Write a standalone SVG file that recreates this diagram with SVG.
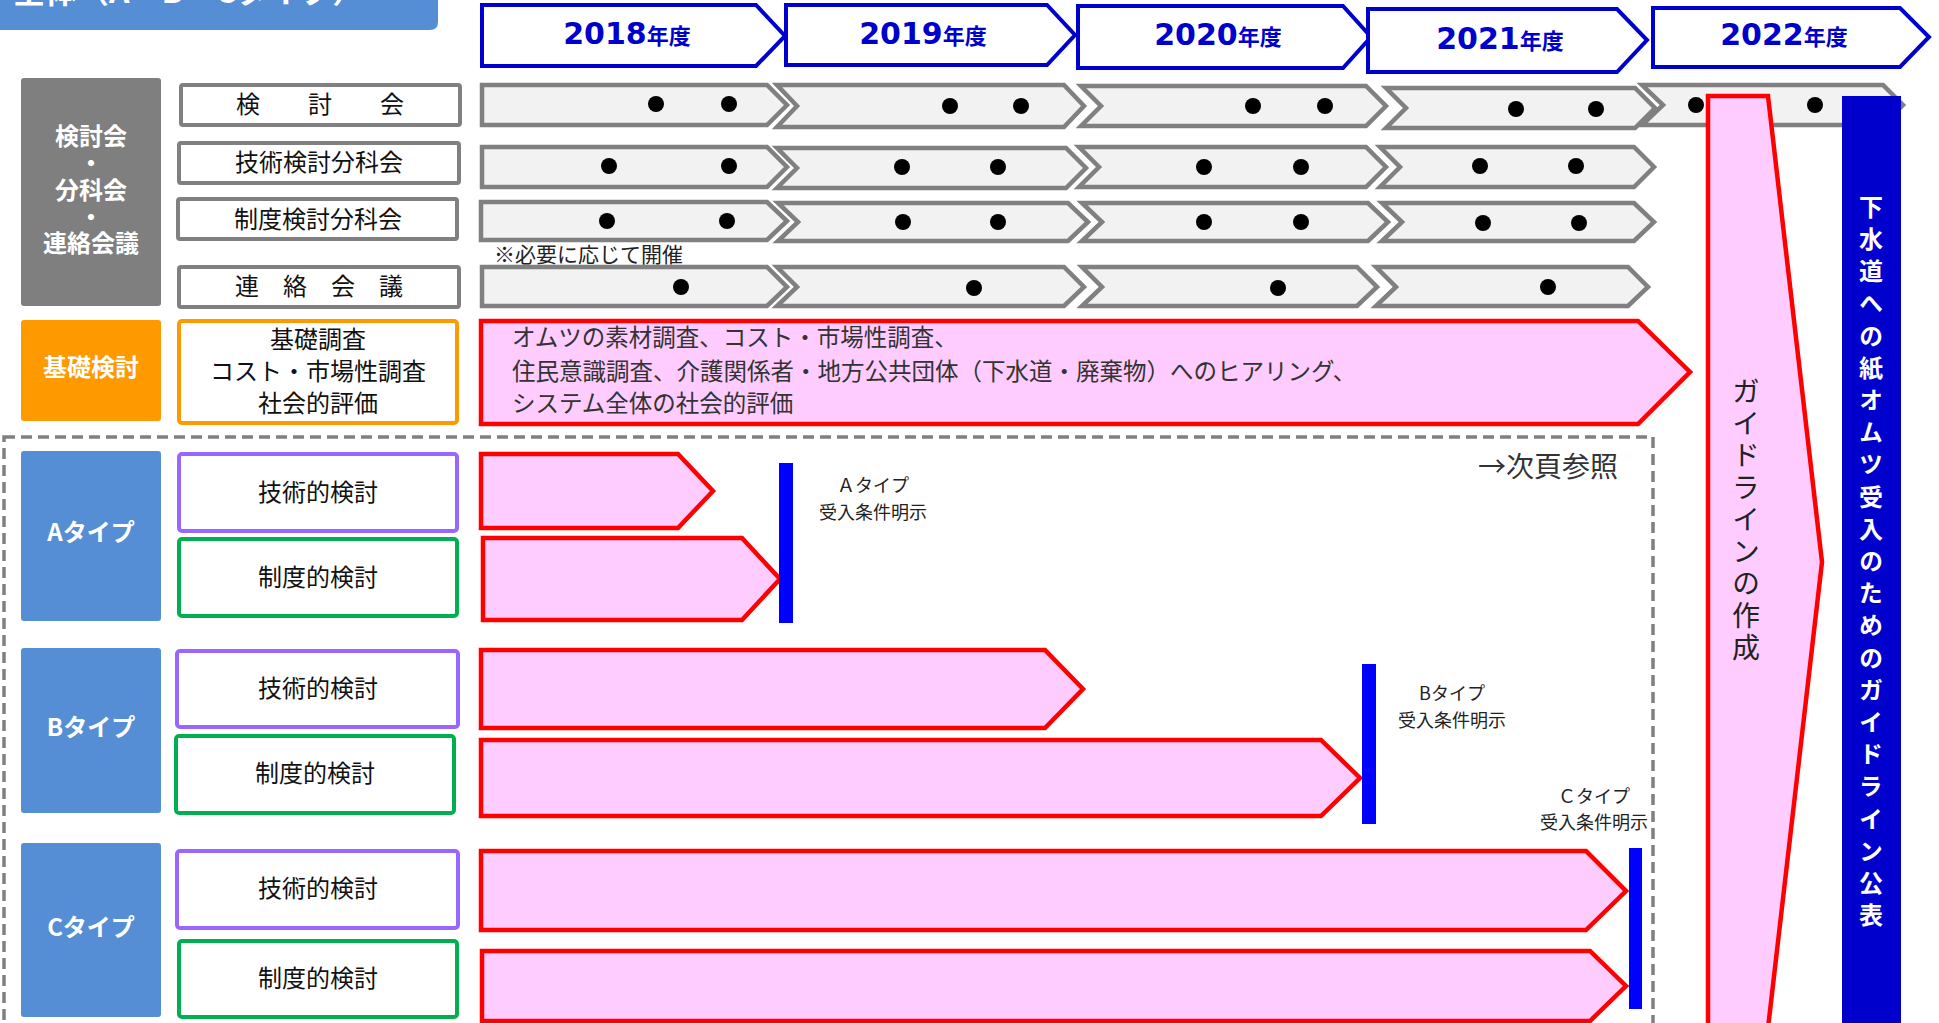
<svg xmlns="http://www.w3.org/2000/svg" width="1939" height="1023" viewBox="0 0 1939 1023">
<style>
text{font-family:"Noto Sans CJK JP","Noto Sans",sans-serif}
.c{text-anchor:middle;dominant-baseline:central}
.lbl{font-size:24px;fill:#111}
.wb{font-size:24px;fill:#fff;font-weight:bold}
.box{fill:#fff;stroke-width:4}
.gray{stroke:#808080}
.org{stroke:#FF9900}
.pur{stroke:#9966FF}
.grn{stroke:#00B050}
.chev{fill:#F2F2F2;stroke:#808080;stroke-width:4.5}
.dot{fill:#000}
.red{fill:#FFCCFF;stroke:#FF0000;stroke-width:4.5}
.yr{fill:#fff;stroke:#0000CC;stroke-width:4}
.yt{font-family:"DejaVu Sans",sans-serif;font-weight:bold;font-size:30px;fill:#0000CC;text-anchor:middle}
.yk{font-family:"Noto Sans CJK JP",sans-serif;font-size:22px}
.bar{fill:#0000FF}
.side{fill:#558ED5}
.note{font-size:18px;fill:#222}
.body{font-size:23.5px;fill:#333}
</style>

<g id="title">
<path d="M0,-20 H438 V22 Q438,30 430,30 H0 Z" fill="#558ED5"/>
<text x="13" y="3" font-size="32" font-weight="bold" fill="#fff">全体（A・B・Cタイプ）</text>
</g>

<g id="years">
<g id="y2018"><path class="yr" d="M482,5 L756,5 L785,36 L756,66 L482,66 Z"/><text class="yt" x="627" y="44">2018<tspan class="yk">年度</tspan></text></g>
<g id="y2019"><path class="yr" d="M786,5 L1047,5 L1075,35 L1047,65 L786,65 Z"/><text class="yt" x="923" y="44">2019<tspan class="yk">年度</tspan></text></g>
<g id="y2020"><path class="yr" d="M1078,6 L1343,6 L1371,37 L1343,68 L1078,68 Z"/><text class="yt" x="1218" y="45">2020<tspan class="yk">年度</tspan></text></g>
<g id="y2021"><path class="yr" d="M1368,9 L1617,9 L1647,40 L1617,72 L1368,72 Z"/><text class="yt" x="1500" y="49">2021<tspan class="yk">年度</tspan></text></g>
<g id="y2022"><path class="yr" d="M1653,8 L1900,8 L1929,37 L1900,67 L1653,67 Z"/><text class="yt" x="1784" y="45">2022<tspan class="yk">年度</tspan></text></g>
</g>

<g id="meetings-head">
<rect x="21" y="78" width="140" height="228" rx="3" fill="#7F7F7F"/>
<text class="c wb" x="91" y="134.5">検討会<tspan x="91" dy="26">・</tspan><tspan x="91" dy="27">分科会</tspan><tspan x="91" dy="27">・</tspan><tspan x="91" dy="26">連絡会議</tspan></text>
</g>

<g id="row-kentoukai"><rect class="box gray" x="181" y="85" width="279" height="40" rx="2"/><text class="c lbl" x="320" y="102.5">検　　討　　会</text></g>
<g id="row-gijutsu"><rect class="box gray" x="179" y="143" width="280" height="40" rx="2"/><text class="c lbl" x="319" y="160.5">技術検討分科会</text></g>
<g id="row-seido"><rect class="box gray" x="178" y="199" width="279" height="40" rx="2"/><text class="c lbl" x="318" y="217.5">制度検討分科会</text></g>
<g id="row-renraku"><rect class="box gray" x="179" y="267" width="280" height="40" rx="2"/><text class="c lbl" x="319" y="284.5">連　絡　会　議</text></g>

<g id="timeline-meetings">
<path class="chev" d="M482,85 L767,85 L787,105 L767,125 L482,125 Z"/>
<path class="chev" d="M777,85 L1064,85 L1084,106 L1064,127 L777,127 L797,106 Z"/>
<path class="chev" d="M1081,86 L1366,86 L1386,106 L1366,126 L1081,126 L1101,106 Z"/>
<path class="chev" d="M1386,88 L1635,88 L1655,108 L1635,128 L1386,128 L1406,108 Z"/>
<path class="chev" d="M1642,85 L1883,85 L1903,105 L1883,125 L1642,125 L1663,105 Z"/>
<circle class="dot" cx="656" cy="104" r="8"/><circle class="dot" cx="729" cy="104" r="8"/>
<circle class="dot" cx="950" cy="106" r="8"/><circle class="dot" cx="1021" cy="106" r="8"/>
<circle class="dot" cx="1253" cy="106" r="8"/><circle class="dot" cx="1325" cy="106" r="8"/>
<circle class="dot" cx="1516" cy="109" r="8"/><circle class="dot" cx="1596" cy="109" r="8"/>
<circle class="dot" cx="1696" cy="105" r="8"/><circle class="dot" cx="1815" cy="105" r="8"/>
<path class="chev" d="M482,147 L767,147 L787,167 L767,187 L482,187 Z"/>
<path class="chev" d="M777,148 L1066,148 L1086,168 L1066,188 L777,188 L797,168 Z"/>
<path class="chev" d="M1079,147 L1366,147 L1386,167 L1366,187 L1079,187 L1099,167 Z"/>
<path class="chev" d="M1380,147 L1634,147 L1654,167 L1634,187 L1380,187 L1400,167 Z"/>
<circle class="dot" cx="609" cy="166" r="8"/><circle class="dot" cx="729" cy="166" r="8"/>
<circle class="dot" cx="902" cy="167" r="8"/><circle class="dot" cx="998" cy="167" r="8"/>
<circle class="dot" cx="1204" cy="167" r="8"/><circle class="dot" cx="1301" cy="167" r="8"/>
<circle class="dot" cx="1480" cy="166" r="8"/><circle class="dot" cx="1576" cy="166" r="8"/>
<path class="chev" d="M481,202 L767,202 L787,221 L767,240 L481,240 Z"/>
<path class="chev" d="M778,203 L1068,203 L1088,222 L1068,241 L778,241 L798,222 Z"/>
<path class="chev" d="M1082,203 L1368,203 L1388,222 L1368,241 L1082,241 L1102,222 Z"/>
<path class="chev" d="M1382,203 L1634,203 L1654,222 L1634,241 L1382,241 L1402,222 Z"/>
<circle class="dot" cx="607" cy="221" r="8"/><circle class="dot" cx="727" cy="221" r="8"/>
<circle class="dot" cx="903" cy="222" r="8"/><circle class="dot" cx="998" cy="222" r="8"/>
<circle class="dot" cx="1204" cy="222" r="8"/><circle class="dot" cx="1301" cy="222" r="8"/>
<circle class="dot" cx="1483" cy="223" r="8"/><circle class="dot" cx="1579" cy="223" r="8"/>
<path class="chev" d="M482,267 L767,267 L787,287 L767,306 L482,306 Z"/>
<path class="chev" d="M777,267 L1064,267 L1084,287 L1064,306 L777,306 L797,287 Z"/>
<path class="chev" d="M1082,267 L1357,267 L1377,287 L1357,306 L1082,306 L1102,287 Z"/>
<path class="chev" d="M1376,267 L1628,267 L1648,287 L1628,306 L1376,306 L1396,287 Z"/>
<circle class="dot" cx="681" cy="287" r="8"/><circle class="dot" cx="974" cy="288" r="8"/>
<circle class="dot" cx="1278" cy="288" r="8"/><circle class="dot" cx="1548" cy="287" r="8"/>
</g>
<text x="494" y="252.5" font-size="21" fill="#222" dominant-baseline="central">※必要に応じて開催</text>

<g id="kiso">
<rect x="21" y="320" width="140" height="101" rx="3" fill="#FF9900"/>
<text class="c wb" x="91" y="365.5">基礎検討</text>
<rect class="box org" x="179" y="321" width="278" height="102" rx="3"/>
<text class="c lbl" x="318" y="337.5">基礎調査</text>
<text class="c lbl" x="318" y="369.5">コスト・市場性調査</text>
<text class="c lbl" x="318" y="401.5">社会的評価</text>
<path class="red" d="M481,321 L1638,321 L1690,372 L1638,424 L481,424 Z"/>
<text class="body" x="512" y="335.5" dominant-baseline="central">オムツの素材調査、コスト・市場性調査、</text>
<text class="body" x="512" y="369.5" dominant-baseline="central">住民意識調査、介護関係者・地方公共団体（下水道・廃棄物）へのヒアリング、</text>
<text class="body" x="512" y="401.5" dominant-baseline="central">システム全体の社会的評価</text>
</g>

<rect x="4" y="437" width="1649" height="640" fill="none" stroke="#808080" stroke-width="3.5" stroke-dasharray="11 6"/>
<text x="1548" y="464.5" font-size="28" fill="#333" text-anchor="middle" dominant-baseline="central">→次頁参照</text>

<g id="typeA">
<rect class="side" x="21" y="451" width="140" height="170" rx="3"/>
<text class="c wb" x="91" y="530.5">Aタイプ</text>
<rect class="box pur" x="179" y="454" width="278" height="77" rx="3"/>
<text class="c lbl" x="318" y="490.5">技術的検討</text>
<rect class="box grn" x="179" y="539" width="278" height="77" rx="3"/>
<text class="c lbl" x="318" y="575.5">制度的検討</text>
<path class="red" d="M481,454 L678,454 L713,491 L678,528 L481,528 Z"/>
<path class="red" d="M483,538 L742,538 L780,579 L742,620 L483,620 Z"/>
<rect class="bar" x="779" y="463" width="14" height="160"/>
<text class="c note" x="873" y="484">Ａタイプ</text>
<text class="c note" x="873" y="511">受入条件明示</text>
</g>

<g id="typeB">
<rect class="side" x="21" y="648" width="140" height="165" rx="3"/>
<text class="c wb" x="91" y="725.5">Bタイプ</text>
<rect class="box pur" x="177" y="651" width="281" height="76" rx="3"/>
<text class="c lbl" x="318" y="686.5">技術的検討</text>
<rect class="box grn" x="176" y="736" width="278" height="77" rx="3"/>
<text class="c lbl" x="315" y="771.5">制度的検討</text>
<path class="red" d="M481,650 L1045,650 L1083,689 L1045,728 L481,728 Z"/>
<path class="red" d="M481,740 L1321,740 L1360,778 L1321,816 L481,816 Z"/>
<rect class="bar" x="1362" y="664" width="14" height="160"/>
<text class="c note" x="1452" y="692">Bタイプ</text>
<text class="c note" x="1452" y="719">受入条件明示</text>
</g>

<g id="typeC">
<rect class="side" x="21" y="843" width="140" height="174" rx="3"/>
<text class="c wb" x="91" y="925.5">Cタイプ</text>
<rect class="box pur" x="177" y="851" width="281" height="77" rx="3"/>
<text class="c lbl" x="318" y="886.5">技術的検討</text>
<rect class="box grn" x="179" y="941" width="278" height="76" rx="3"/>
<text class="c lbl" x="318" y="976.5">制度的検討</text>
<path class="red" d="M481,851 L1586,851 L1626,891 L1586,930 L481,930 Z"/>
<path class="red" d="M482,951 L1590,951 L1626,986 L1590,1021 L482,1021 Z"/>
<rect class="bar" x="1629" y="848" width="13" height="161"/>
<text class="c note" x="1594" y="795">Ｃタイプ</text>
<text class="c note" x="1594" y="821">受入条件明示</text>
</g>

<g id="guideline">
<path class="red" d="M1708,96 L1768,96 L1822,562 L1768,1028 L1708,1028 Z"/>
<text x="1746" y="521" font-size="28" fill="#222" writing-mode="tb" text-anchor="middle" letter-spacing="4">ガイドラインの作成</text>
</g>

<g id="publish">
<rect x="1842" y="96" width="59" height="940" fill="#0000CC"/>
<text x="1871" y="565" font-size="24" font-weight="bold" fill="#fff" writing-mode="tb" text-anchor="middle" letter-spacing="8.2">下水道への紙オムツ受入のためのガイドライン公表</text>
</g>
</svg>
